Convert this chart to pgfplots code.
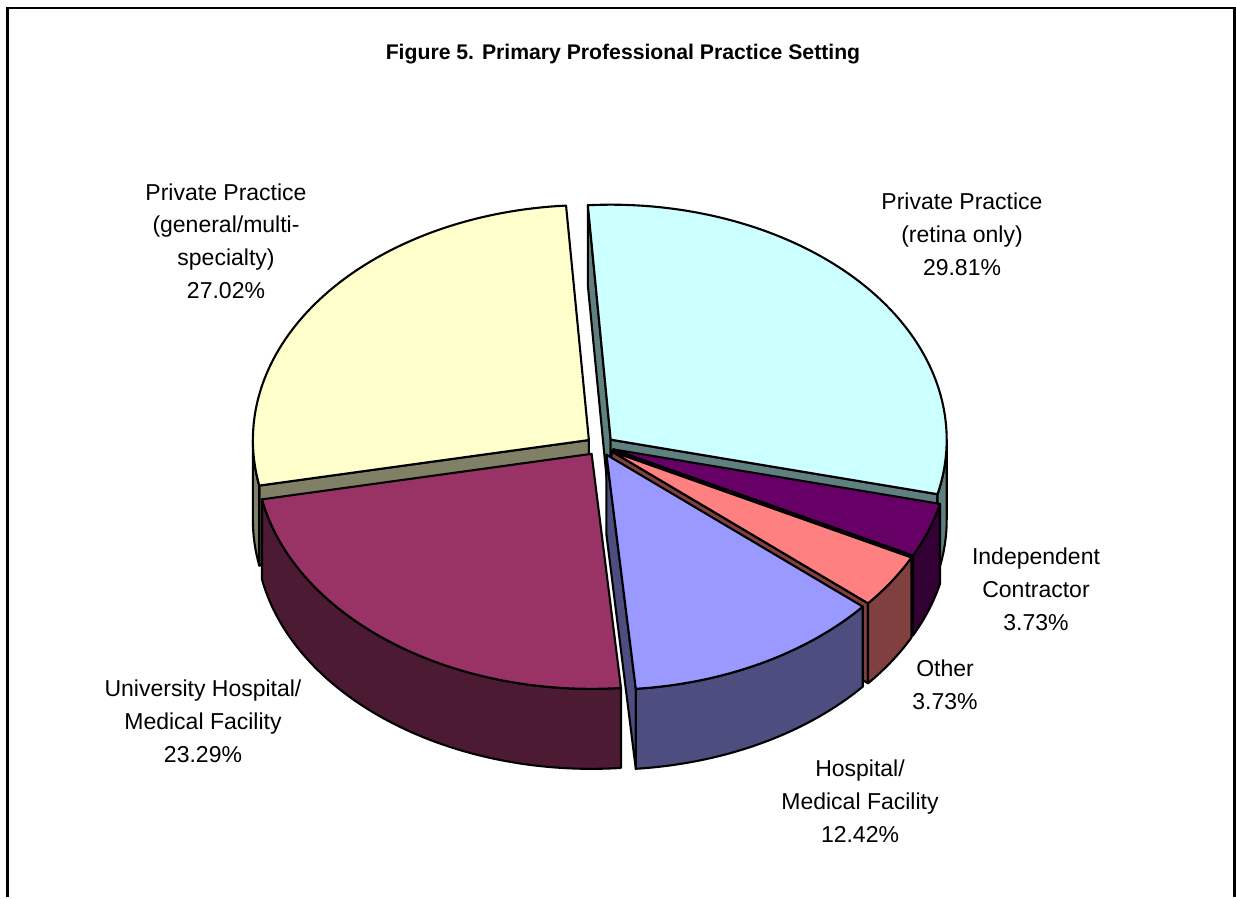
\documentclass[border=0pt]{standalone}
\usepackage{pgfplots}
\usepackage{pgfplotstable}
\pgfplotsset{compat=1.18}
\usepackage{fontspec}
\setmainfont{Liberation Sans}

\definecolor{retTop}{HTML}{CCFFFF} \definecolor{retSide}{HTML}{608080}
\definecolor{indTop}{HTML}{660066} \definecolor{indSide}{HTML}{330033}
\definecolor{othTop}{HTML}{FF8080} \definecolor{othSide}{HTML}{804040}
\definecolor{hosTop}{HTML}{9999FF} \definecolor{hosSide}{HTML}{4D4D80}
\definecolor{uniTop}{HTML}{993366} \definecolor{uniSide}{HTML}{4D1A33}
\definecolor{genTop}{HTML}{FFFFCC} \definecolor{genSide}{HTML}{808066}

% shares of the pie, in per cent, clockwise from the top
\pgfplotstableread{
id pct
1 29.81
2 3.73
3 3.73
4 12.42
5 23.29
6 27.02
}\piedata

% geometry (axis units; 1 unit = 0.5pt)
\def\cx{600}\def\cy{451}\def\ra{336}\def\rb{235}\def\hh{80}\def\expl{14}\def\rot{-3.9}
\def\rapt{168pt}\def\rbpt{117.5pt}
\def\lw{1.05pt}

\pgfplotstablegetelem{0}{pct}\of\piedata \pgfmathsetmacro\pA{\pgfplotsretval}
\pgfplotstablegetelem{1}{pct}\of\piedata \pgfmathsetmacro\pB{\pgfplotsretval}
\pgfplotstablegetelem{2}{pct}\of\piedata \pgfmathsetmacro\pC{\pgfplotsretval}
\pgfplotstablegetelem{3}{pct}\of\piedata \pgfmathsetmacro\pD{\pgfplotsretval}
\pgfplotstablegetelem{4}{pct}\of\piedata \pgfmathsetmacro\pE{\pgfplotsretval}
\pgfplotstablegetelem{5}{pct}\of\piedata \pgfmathsetmacro\pF{\pgfplotsretval}
\pgfmathsetmacro\bO{\rot}
\pgfmathsetmacro\bA{\bO+3.6*\pA}
\pgfmathsetmacro\bB{\bA+3.6*\pB}
\pgfmathsetmacro\bC{\bB+3.6*\pC}
\pgfmathsetmacro\bD{\bC+3.6*\pD}
\pgfmathsetmacro\bE{\bD+3.6*\pE}
\pgfmathsetmacro\bF{\bE+3.6*\pF}

\newcommand\keep[2]{\expandafter\xdef\csname #1#2\endcsname{\csname Q#2\endcsname}}
\newcommand\V[2]{\csname #1#2\endcsname}

\newcommand\prepslice[3]{% #1 name, #2 start angle, #3 end angle (clockwise from top)
 \pgfmathsetmacro\Qm{(#2+#3)/2}
 \pgfmathsetmacro\Qox{\expl*sin(\Qm)}
 \pgfmathsetmacro\Qoy{\expl*\rb/\ra*cos(\Qm)}
 \pgfmathsetmacro\Qax{\cx+\Qox}
 \pgfmathsetmacro\Qay{\cy+\Qoy}
 \pgfmathsetmacro\Qayb{\Qay-\hh}
 \pgfmathsetmacro\Qts{90-#2}
 \pgfmathsetmacro\Qte{90-#3}
 \pgfmathsetmacro\Qsx{\Qax+\ra*cos(\Qts)}
 \pgfmathsetmacro\Qsy{\Qay+\rb*sin(\Qts)}
 \pgfmathsetmacro\Qsyb{\Qsy-\hh}
 \pgfmathsetmacro\Qex{\Qax+\ra*cos(\Qte)}
 \pgfmathsetmacro\Qey{\Qay+\rb*sin(\Qte)}
 \pgfmathsetmacro\Qeyb{\Qey-\hh}
 \pgfmathsetmacro\Qua{min(\Qts,0)}
 \pgfmathsetmacro\Qub{max(\Qte,-180)}
 \pgfmathsetmacro\Qwax{\Qax+\ra*cos(\Qua)}
 \pgfmathsetmacro\Qway{\Qay+\rb*sin(\Qua)}
 \pgfmathsetmacro\Qwbx{\Qax+\ra*cos(\Qub)}
 \pgfmathsetmacro\Qwby{\Qay+\rb*sin(\Qub)}
 \pgfmathsetmacro\Qwbyb{\Qwby-\hh}
 \pgfmathtruncatemacro\Qfw{\Qua>\Qub ? 1 : 0}
 \pgfmathtruncatemacro\Qfs{sin(#2)<0 ? 1 : 0}
 \pgfmathtruncatemacro\Qfe{sin(#3)>0 ? 1 : 0}
 \keep{#1}{ax}\keep{#1}{ay}\keep{#1}{ayb}\keep{#1}{ts}\keep{#1}{te}
 \keep{#1}{sx}\keep{#1}{sy}\keep{#1}{syb}\keep{#1}{ex}\keep{#1}{ey}\keep{#1}{eyb}
 \keep{#1}{ua}\keep{#1}{ub}\keep{#1}{wax}\keep{#1}{way}\keep{#1}{wbx}\keep{#1}{wby}\keep{#1}{wbyb}
 \keep{#1}{fw}\keep{#1}{fs}\keep{#1}{fe}
}
\prepslice{A}{\bO}{\bA}
\prepslice{B}{\bA}{\bB}
\prepslice{C}{\bB}{\bC}
\prepslice{D}{\bC}{\bD}
\prepslice{E}{\bD}{\bE}
\prepslice{F}{\bE}{\bF}

\newcommand\drawslice[3]{%
 \ifnum\V{#1}{fs}=1
  \filldraw[fill=#3,draw=black,line width=\lw,line join=round] (axis cs:\V{#1}{ax},\V{#1}{ay}) -- (axis cs:\V{#1}{sx},\V{#1}{sy}) -- (axis cs:\V{#1}{sx},\V{#1}{syb}) -- (axis cs:\V{#1}{ax},\V{#1}{ayb}) -- cycle;
 \fi
 \ifnum\V{#1}{fe}=1
  \filldraw[fill=#3,draw=black,line width=\lw,line join=round] (axis cs:\V{#1}{ax},\V{#1}{ay}) -- (axis cs:\V{#1}{ex},\V{#1}{ey}) -- (axis cs:\V{#1}{ex},\V{#1}{eyb}) -- (axis cs:\V{#1}{ax},\V{#1}{ayb}) -- cycle;
 \fi
 \ifnum\V{#1}{fw}=1
  \filldraw[fill=#3,draw=black,line width=\lw,line join=round] (axis cs:\V{#1}{wax},\V{#1}{way}) arc[start angle=\V{#1}{ua}, end angle=\V{#1}{ub}, x radius=\rapt, y radius=\rbpt] -- (axis cs:\V{#1}{wbx},\V{#1}{wbyb}) arc[start angle=\V{#1}{ub}, end angle=\V{#1}{ua}, x radius=\rapt, y radius=\rbpt] -- cycle;
 \fi
 \filldraw[fill=#2,draw=black,line width=\lw,line join=round] (axis cs:\V{#1}{ax},\V{#1}{ay}) -- (axis cs:\V{#1}{sx},\V{#1}{sy}) arc[start angle=\V{#1}{ts}, end angle=\V{#1}{te}, x radius=\rapt, y radius=\rbpt] -- cycle;
}

\begin{document}
\begin{tikzpicture}
\begin{axis}[x=0.5pt, y=0.5pt, xmin=0, xmax=1236, ymin=0, ymax=897,
  hide axis, clip=false, scale only axis]
\path (axis cs:0,0) rectangle (axis cs:1236,897);
\draw[line width=1.15pt] (axis cs:7.5,0) -- (axis cs:7.5,889) -- (axis cs:1234.5,889) -- (axis cs:1234.5,0);
\node[font=\bfseries\fontsize{10.6}{13}\selectfont] at (axis cs:623,843) {Figure 5. Primary Professional Practice Setting};
\drawslice{A}{retTop}{retSide}
\drawslice{F}{genTop}{genSide}
\drawslice{B}{indTop}{indSide}
\drawslice{C}{othTop}{othSide}
\drawslice{D}{hosTop}{hosSide}
\drawslice{E}{uniTop}{uniSide}
\begin{scope}[every node/.style={align=center, font=\fontsize{11.5}{16.4}\selectfont}]
\node at (axis cs:962,663) {Private Practice\\(retina only)\\29.81\%};
\node at (axis cs:226,656) {Private Practice\\(general/multi-\\specialty)\\27.02\%};
\node at (axis cs:1036,308) {Independent\\Contractor\\3.73\%};
\node at (axis cs:945,212.5) {Other\\3.73\%};
\node at (axis cs:860,96) {Hospital/\\Medical Facility\\12.42\%};
\node at (axis cs:203,176) {University Hospital/\\Medical Facility\\23.29\%};
\end{scope}
\end{axis}
\end{tikzpicture}
\end{document}
